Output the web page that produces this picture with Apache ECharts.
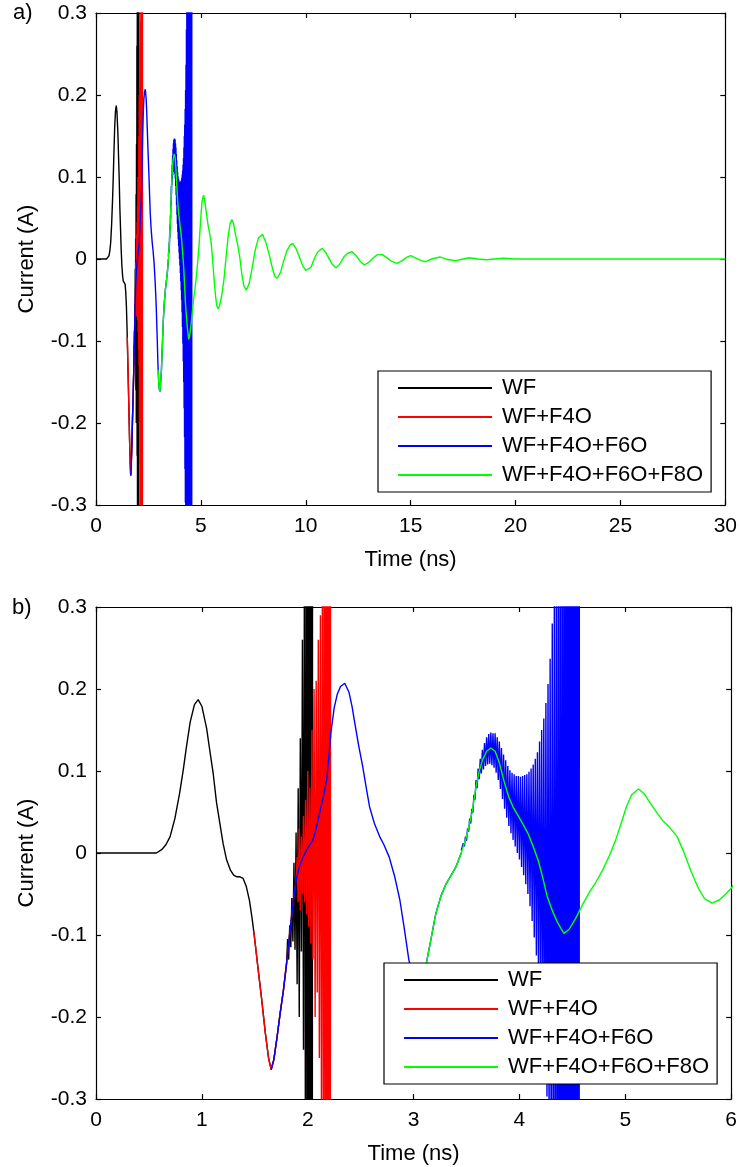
<!DOCTYPE html>
<html>
<head>
<meta charset="utf-8">
<script src="https://cdn.jsdelivr.net/npm/echarts@6/dist/echarts.min.js"></script>
<style>
html,body{margin:0;padding:0;background:#fff;}
#chart{width:740px;height:1167px;}
</style>
</head>
<body>
<div id="chart"></div>
<script>
// ---- Data (time in ns, current in A) ----
const seriesNames = ['WF', 'WF+F4O', 'WF+F4O+F6O', 'WF+F4O+F6O+F8O'];
const seriesColors = ['#000000', '#ff0000', '#0000ff', '#00ff00'];

const xTicksTop = [0, 5, 10, 15, 20, 25, 30];
const xTicksBottom = [0, 1, 2, 3, 4, 5, 6];
const yTicks = [-0.3, -0.2, -0.1, 0, 0.1, 0.2, 0.3];

// WF (black) smooth part
const wfSmooth = [
  [0,0],[0.3,0],[0.5,0],[0.57,0],[0.62,0.004],[0.66,0.010],[0.70,0.020],[0.745,0.042],
  [0.79,0.073],[0.825,0.102],[0.855,0.130],[0.89,0.160],[0.93,0.181],[0.965,0.187],
  [1.0,0.179],[1.045,0.152],[1.075,0.125],[1.107,0.097],[1.138,0.062],[1.17,0.036],
  [1.20,0.012],[1.233,-0.008],[1.27,-0.021],[1.30,-0.027],[1.33,-0.029],[1.36,-0.029],
  [1.39,-0.031],[1.42,-0.041],[1.45,-0.058],[1.475,-0.080],[1.50,-0.106],[1.53,-0.140],
  [1.563,-0.176],[1.60,-0.220],[1.63,-0.250],[1.655,-0.264],[1.68,-0.252],[1.71,-0.225],
  [1.74,-0.195],[1.77,-0.168],[1.80,-0.135]
];
// WF (black) unstable part
const wfSpikes = [
  [1.80,-0.135],[1.81,-0.105],[1.82,-0.130],[1.83,-0.088],[1.84,-0.115],[1.85,-0.055],
  [1.86,-0.108],[1.87,-0.012],[1.88,-0.118],[1.89,0.025],[1.90,-0.160],[1.91,0.079],
  [1.92,-0.200],[1.93,0.140],[1.94,-0.120],[1.95,0.260],[1.96,-0.240],[1.97,0.450],
  [1.98,-0.550],[1.99,0.800],[2.00,-1.000],[2.01,1.300],[2.02,-1.600],[2.03,2.000],
  [2.04,-2.500],[2.05,3.000]
];
// WF+F4O (red)
const f4oSmooth = [
  [1.49,-0.095],[1.50,-0.106],[1.53,-0.140],[1.563,-0.176],[1.60,-0.220],[1.63,-0.250],
  [1.655,-0.264],[1.68,-0.252],[1.71,-0.225],[1.74,-0.195],[1.77,-0.168],[1.80,-0.135],
  [1.83,-0.098],[1.86,-0.063],[1.89,-0.033]
];
const f4oSpikes = [
  [1.89,-0.033],[1.90,-0.005],[1.91,-0.060],[1.92,0.030],[1.93,-0.070],[1.94,0.020],
  [1.95,-0.050],[1.96,0.045],[1.97,-0.060],[1.98,0.065],[1.99,-0.075],[2.00,0.100],
  [2.01,-0.090],[2.02,0.080],[2.03,-0.110],[2.04,0.150],[2.05,-0.130],[2.06,0.200],
  [2.07,-0.200],[2.08,0.210],[2.09,-0.170],[2.10,0.260],[2.11,-0.250],[2.12,0.290],
  [2.13,-0.330],[2.14,0.450],[2.15,-0.600],[2.16,0.800],[2.17,-1.000],[2.18,1.300],
  [2.19,-1.600],[2.20,2.000],[2.21,-2.400],[2.22,3.000]
];
// WF+F4O+F6O (blue)
const f6oSmooth = [
  [1.655,-0.264],[1.68,-0.252],[1.71,-0.225],[1.74,-0.195],[1.77,-0.168],[1.80,-0.135],
  [1.83,-0.098],[1.86,-0.063],[1.89,-0.033],[1.92,-0.017],[1.956,-0.005],[2.0,0.006],
  [2.05,0.016],[2.08,0.030],[2.11,0.048],[2.15,0.070],[2.18,0.090],[2.20,0.118],
  [2.22,0.148],[2.25,0.177],[2.28,0.194],[2.31,0.203],[2.35,0.207],[2.39,0.196],
  [2.42,0.178],[2.44,0.162],[2.48,0.132],[2.52,0.105],[2.555,0.078],[2.585,0.056],
  [2.63,0.036],[2.68,0.020],[2.72,0.010],[2.77,-0.005],[2.82,-0.028],[2.87,-0.057],
  [2.91,-0.090],[2.955,-0.130],[3.0,-0.155],[3.04,-0.162],[3.08,-0.152],[3.12,-0.135],
  [3.16,-0.108],[3.21,-0.074],[3.26,-0.052],[3.31,-0.037],[3.36,-0.026],[3.40,-0.017],
  [3.45,0.000]
];
const f6oSpikes = [
  [3.45,0.003],[3.46,0.001],[3.47,0.012],[3.48,0.008],[3.49,0.020],[3.50,0.015],
  [3.51,0.030],[3.52,0.026],[3.53,0.042],[3.54,0.036],[3.55,0.054],[3.56,0.049],
  [3.57,0.071],[3.58,0.065],[3.59,0.089],[3.60,0.079],[3.61,0.103],[3.62,0.090],
  [3.63,0.115],[3.64,0.097],[3.65,0.126],[3.66,0.102],[3.67,0.134],[3.68,0.106],
  [3.69,0.141],[3.70,0.108],[3.71,0.145],[3.72,0.109],[3.73,0.147],[3.74,0.107],
  [3.75,0.146],[3.76,0.104],[3.77,0.146],[3.78,0.098],[3.79,0.141],[3.80,0.089],
  [3.81,0.136],[3.82,0.078],[3.83,0.128],[3.84,0.066],[3.85,0.120],[3.86,0.054],
  [3.87,0.113],[3.88,0.043],[3.89,0.106],[3.90,0.033],[3.91,0.101],[3.92,0.024],
  [3.93,0.098],[3.94,0.016],[3.95,0.096],[3.96,0.008],[3.97,0.094],[3.98,0.000],
  [3.99,0.094],[4.00,-0.008],[4.01,0.093],[4.02,-0.017],[4.03,0.094],[4.04,-0.027],
  [4.05,0.095],[4.06,-0.038],[4.07,0.096],[4.08,-0.050],[4.09,0.099],[4.10,-0.065],
  [4.11,0.103],[4.12,-0.083],[4.13,0.108],[4.14,-0.103],[4.15,0.115],[4.16,-0.125],
  [4.17,0.123],[4.18,-0.150],[4.19,0.136],[4.20,-0.182],[4.21,0.150],[4.22,-0.217],
  [4.23,0.164],[4.24,-0.256],[4.25,0.183],[4.26,-0.297],[4.27,0.206],[4.28,-0.340],
  [4.29,0.237],[4.30,-0.392],[4.31,0.280],[4.32,-0.458],[4.33,0.344],[4.34,-0.539],
  [4.35,0.418],[4.36,-0.635],[4.37,0.520],[4.38,-0.750],[4.39,0.620],[4.40,-0.880],
  [4.41,0.750],[4.42,-1.050],[4.43,0.950],[4.44,-1.250],[4.45,1.150],[4.46,-1.450],
  [4.47,1.350],[4.48,-1.700],[4.49,1.600],[4.50,-2.000],[4.51,1.900],[4.52,-2.300],
  [4.53,2.200],[4.54,-2.600],[4.55,2.500],[4.56,-3.000],[4.57,3.000]
];
// WF+F4O+F6O+F8O (green)
const f8oData = [
  [2.96,-0.135],[3.0,-0.155],[3.04,-0.162],[3.08,-0.152],[3.12,-0.135],[3.16,-0.108],
  [3.21,-0.074],[3.26,-0.052],[3.31,-0.037],[3.36,-0.026],[3.40,-0.017],[3.45,0.000],
  [3.50,0.020],[3.55,0.048],[3.59,0.081],[3.62,0.100],[3.65,0.113],[3.69,0.124],
  [3.73,0.128],[3.77,0.124],[3.81,0.110],[3.86,0.085],[3.90,0.068],[3.94,0.056],
  [3.98,0.047],[4.03,0.036],[4.08,0.024],[4.13,0.008],[4.18,-0.010],[4.22,-0.030],
  [4.26,-0.052],[4.31,-0.070],[4.36,-0.085],[4.42,-0.098],[4.47,-0.093],[4.53,-0.080],
  [4.60,-0.062],[4.66,-0.048],[4.72,-0.036],[4.79,-0.020],[4.85,-0.003],[4.91,0.016],
  [4.96,0.036],[5.01,0.056],[5.06,0.071],[5.125,0.078],[5.18,0.072],[5.24,0.060],
  [5.30,0.049],[5.35,0.040],[5.42,0.031],[5.49,0.020],[5.55,0.002],[5.62,-0.022],
  [5.69,-0.043],[5.75,-0.056],[5.82,-0.061],[5.89,-0.057],[5.95,-0.050],[6.0,-0.043],
  [6.1,-0.025],[6.2,0.002],[6.3,0.028],[6.4,0.044],[6.48,0.048],[6.55,0.044],
  [6.65,0.030],[6.75,0.018],[6.85,0.003],[6.95,-0.018],[7.05,-0.033],[7.17,-0.038],
  [7.3,-0.030],[7.45,-0.010],[7.6,0.012],[7.75,0.026],[7.94,0.030],[8.1,0.020],
  [8.25,0.006],[8.4,-0.010],[8.52,-0.021],[8.64,-0.0235],[8.8,-0.016],[8.95,-0.002],
  [9.1,0.010],[9.25,0.017],[9.38,0.019],[9.55,0.012],[9.7,0.002],[9.85,-0.008],
  [10.0,-0.014],[10.08,-0.0155],[10.25,-0.010],[10.4,0.000],[10.55,0.008],[10.78,0.013],
  [10.95,0.008],[11.1,0.001],[11.25,-0.006],[11.44,-0.0106],[11.6,-0.007],[11.8,0.002],
  [12.0,0.007],[12.2,0.009],[12.4,0.004],[12.6,-0.003],[12.79,-0.0073],[13.0,-0.004],
  [13.2,0.001],[13.4,0.005],[13.63,0.0057],[13.85,0.002],[14.1,-0.003],[14.35,-0.0053],
  [14.6,-0.002],[14.8,0.002],[15.0,0.004],[15.25,0.001],[15.5,-0.002],[15.72,-0.0033],
  [16.0,0.000],[16.4,0.0025],[16.8,-0.001],[17.15,-0.002],[17.5,0.000],[17.8,0.0015],
  [18.2,0.000],[18.6,-0.001],[19.0,0.000],[19.4,0.001],[20,0],[22,0],[25,0],[28,0],[30,0]
];

// ---- Build chart ----
const FONT = "'Liberation Sans', Arial, sans-serif";
const chart = echarts.init(document.getElementById('chart'), null, {renderer: 'canvas'});

const grids = [
  {left: 96, top: 13, width: 631, height: 492},
  {left: 96, top: 607, width: 636, height: 492}
];
const xRanges = [xTicksTop, xTicksBottom];

const xAxes = [], yAxes = [];
grids.forEach((g, i) => {
  const ticks = xRanges[i];
  const common = {
    gridIndex: i, type: 'value',
    axisLine: {show: true, onZero: false, lineStyle: {color: '#000', width: 1.2}},
    axisTick: {show: true, inside: true, length: 5, lineStyle: {color: '#000', width: 1.2}},
    splitLine: {show: false}
  };
  xAxes.push(Object.assign({}, common, {
    position: 'bottom', min: ticks[0], max: ticks[ticks.length - 1], interval: ticks[1] - ticks[0],
    axisLabel: {show: true, color: '#000', fontSize: 21, fontFamily: FONT, margin: 11},
    name: 'Time (ns)', nameLocation: 'middle', nameGap: 44,
    nameTextStyle: {color: '#000', fontSize: 22, fontFamily: FONT}
  }));
  xAxes.push(Object.assign({}, common, {
    position: 'top', min: ticks[0], max: ticks[ticks.length - 1], interval: ticks[1] - ticks[0],
    axisLabel: {show: false}
  }));
  yAxes.push(Object.assign({}, common, {
    position: 'left', min: yTicks[0], max: yTicks[yTicks.length - 1], interval: 0.1,
    axisLabel: {show: true, color: '#000', fontSize: 21, fontFamily: FONT, margin: 9,
      formatter: v => String(Math.round(v * 10) / 10)},
    name: 'Current (A)', nameLocation: 'middle', nameGap: 58,
    nameTextStyle: {color: '#000', fontSize: 22, fontFamily: FONT}
  }));
  yAxes.push(Object.assign({}, common, {
    position: 'right', min: yTicks[0], max: yTicks[yTicks.length - 1], interval: 0.1,
    axisLabel: {show: false}
  }));
});

const parts = [
  [0, wfSmooth], [0, wfSpikes],
  [1, f4oSmooth], [1, f4oSpikes],
  [2, f6oSmooth], [2, f6oSpikes],
  [3, f8oData]
];
const series = [];
[0, 1].forEach(gi => {
  parts.forEach(([k, data]) => {
    series.push({
      type: 'line', name: seriesNames[k], data: data,
      xAxisIndex: gi * 2, yAxisIndex: gi * 2,
      symbol: 'none', showSymbol: false, smooth: false, clip: true,
      lineStyle: {color: seriesColors[k], width: 1.4},
      itemStyle: {color: seriesColors[k]},
      z: 2,
      animation: false
    });
  });
});

function legendAt(left, top) {
  return {
    show: true,
    data: seriesNames.map(n => ({name: n, icon: 'rect'})),
    orient: 'vertical', left: left, top: top,
    backgroundColor: '#fff', borderColor: '#000', borderWidth: 1.2, borderRadius: 0,
    padding: [6, 8, 6, 20], itemWidth: 94, itemHeight: 2, itemGap: 7,
    selectedMode: false,
    textStyle: {color: '#000', fontSize: 22, fontFamily: FONT, padding: [0, 0, 0, 5]},
    z: 10
  };
}

chart.setOption({
  animation: false,
  backgroundColor: '#fff',
  grid: grids,
  xAxis: xAxes,
  yAxis: yAxes,
  legend: [legendAt(378, 371), legendAt(384, 963)],
  graphic: [
    {type: 'text', left: 13, top: 2, style: {text: 'a)', fill: '#000', font: '22px ' + FONT}},
    {type: 'text', left: 12, top: 597, style: {text: 'b)', fill: '#000', font: '22px ' + FONT}}
  ],
  series: series
});
</script>
</body>
</html>
